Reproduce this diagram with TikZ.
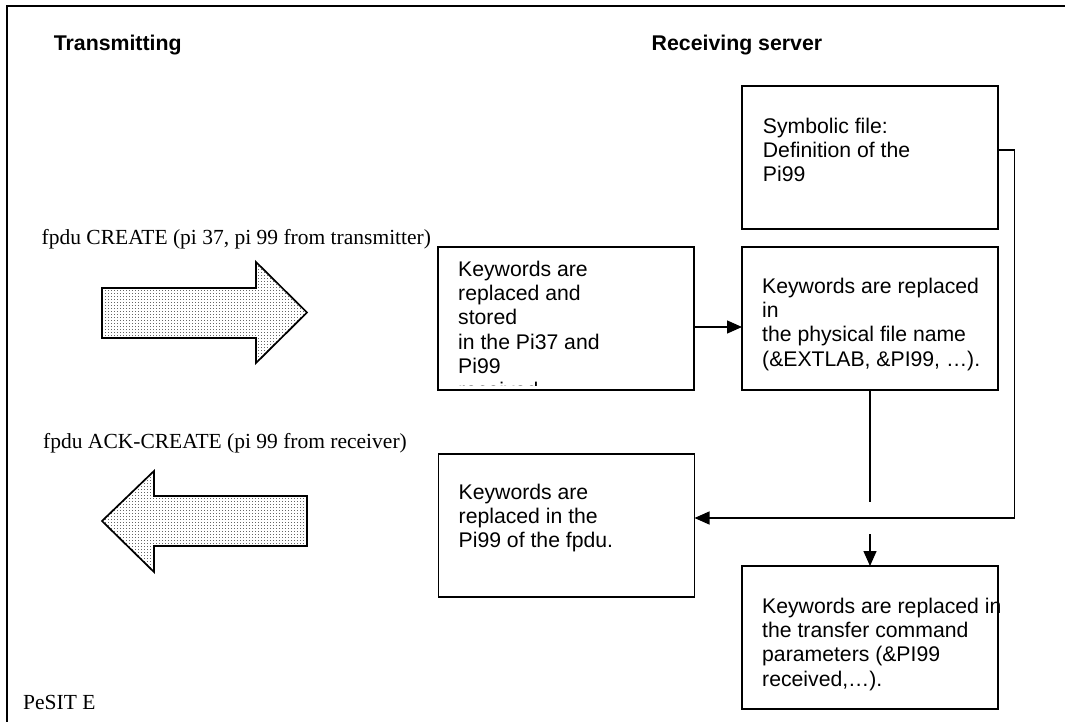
\documentclass[tikz,border=0pt]{standalone}
\usepackage{fontspec}
\setmainfont{Liberation Serif}
\newfontfamily\arialfont{Liberation Sans}
\usetikzlibrary{arrows.meta,patterns}
\pgfdeclarepatternformonly{coarsedots}{\pgfqpoint{0pt}{0pt}}{\pgfqpoint{3.3pt}{3.3pt}}{\pgfqpoint{3.3pt}{3.3pt}}{%
  \pgfpathrectangle{\pgfqpoint{0pt}{0pt}}{\pgfqpoint{1.1pt}{1.1pt}}\pgfusepath{fill}}
\begin{document}
\begin{tikzpicture}[x=1pt,y=-1pt,
  box/.style={draw,line width=1.9pt,minimum width=256pt,minimum height=143pt,anchor=north west,inner sep=0pt,outer sep=0pt},
  txt/.style={anchor=north west,inner sep=0pt,align=left,font=\arialfont\fontsize{21.2}{24.3}\selectfont},
  hdr/.style={anchor=base west,inner sep=0pt,font=\arialfont\bfseries\fontsize{21.3}{24}\selectfont},
  serif/.style={anchor=base west,inner sep=0pt,font=\fontsize{21.5}{24}\selectfont},
  conn/.style={line width=1.4pt,line join=miter},
  arr/.style={conn,-{Triangle[length=15pt,width=13pt]}},
  bigarrow/.style={line width=1.7pt,pattern=coarsedots,pattern color=black!60,line join=miter}]
\useasboundingbox (0,0) rectangle (1065,722);
% frame
\draw[line width=2pt] (1065,6.5) -- (7,6.5) -- (7,722);
% headings and labels
\node[hdr] (th) at (53.6,50.5) {Transmitting};
\node[hdr] (rh) at (651.5,50.5) {Receiving server};
\node[serif] (fc) at (41.5,244) {fpdu CREATE (pi 37, pi 99 from transmitter)};
\node[serif] (fa) at (43,448) {fpdu ACK-CREATE (pi 99 from receiver)};
\node[serif] (pe) at (23,709) {PeSIT E};
% big arrows
\draw[bigarrow] (102,288) -- (256,288) -- (256,262) -- (307,312.5) -- (256,363) -- (256,338) -- (102,338) -- cycle;
\draw[bigarrow] (307,496) -- (154,496) -- (154,471) -- (102,521) -- (154,572) -- (154,546) -- (307,546) -- cycle;
% boxes
\node[box] (sbox) at (742,86) {};
\node[box] (mbox) at (742,247) {};
\node[box] (lbox) at (438,247) {};
\node[box] (abox) at (438.5,454) {};
\node[box] (bbox) at (742,566) {};
% box texts
\begin{scope}
\clip (lbox.north west) rectangle ([shift={(0,-5)}]lbox.south east);
\node[txt] (ltext) at ([shift={(20,12)}]lbox.north west) {\strut Keywords are\\replaced and\\stored\\in the Pi37 and\\Pi99\\received};
\end{scope}
\node[txt] (stext) at ([shift={(20.7,30)}]sbox.north west) {\strut Symbolic file:\\Definition of the\\Pi99};
\node[txt] (mtext) at ([shift={(20,29)}]mbox.north west) {\strut Keywords are replaced\\in\\the physical file name\\(\&EXTLAB, \&PI99, …).};
\node[txt] (atext) at ([shift={(20,28)}]abox.north west) {\strut Keywords are\\replaced in the\\Pi99 of the fpdu.};
\node[txt] (btext) at ([shift={(20,30)}]bbox.north west) {\strut Keywords are replaced in\\the transfer command\\parameters (\&PI99\\received,…).};
% connectors
\coordinate (y1) at (0,327);
\coordinate (sy) at (0,150);
\coordinate (rx) at (1014.5,0);
\coordinate (hy) at (0,518);
\coordinate (stopy) at (0,502);
\coordinate (starty) at (0,534);
\draw[arr] (lbox.east |- y1) -- (mbox.west |- y1);
\draw[arr] (sbox.east |- sy) -- (rx |- sy) -- (rx |- hy) -- (abox.east |- hy);
\draw[conn] (mbox.south) -- (mbox.south |- stopy);
\draw[arr] (bbox.north |- starty) -- (bbox.north);
\end{tikzpicture}
\end{document}
